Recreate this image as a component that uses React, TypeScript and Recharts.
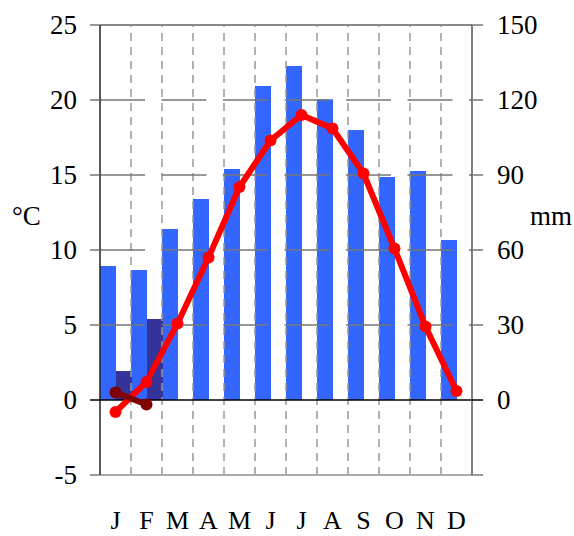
import React from 'react';
import { ComposedChart, Bar, Line, XAxis, YAxis, ReferenceLine } from 'recharts';

const months = ['Jan', 'Feb', 'Mar', 'Apr', 'May', 'Jun', 'Jul', 'Aug', 'Sep', 'Oct', 'Nov', 'Dec'];
const monthLabels = ['J', 'F', 'M', 'A', 'M', 'J', 'J', 'A', 'S', 'O', 'N', 'D'];

// temperature °C (left axis)
const temperature = [-0.8, 1.2, 5.1, 9.5, 14.2, 17.3, 19.0, 18.1, 15.1, 10.1, 4.9, 0.6];
const temperatureDark = [0.5, -0.3, null, null, null, null, null, null, null, null, null, null];

// precipitation mm (right axis)
const precipitation = [53.6, 52, 68.4, 80.4, 92.4, 125.6, 133.6, 120.3, 108, 89.2, 91.6, 64];
const precipitationDark = [11.6, 32.4, null, null, null, null, null, null, null, null, null, null];

const tempTicks = [-5, 0, 5, 10, 15, 20, 25];
const mmTicks = [-30, 0, 30, 60, 90, 120, 150];
const innerGrid = [5, 10, 15, 20];

const data = months.map((m, i) => ({
    month: m,
    temp: temperature[i],
    tempDark: temperatureDark[i],
    precip: precipitation[i],
    precipDark: precipitationDark[i],
}));

const FONT = '"Liberation Serif", "DejaVu Serif", serif';

const LeftTick = (props: any) => {
    const { x, y, payload } = props;
    const col = payload.value === 0 ? '#000' : '#777';
    return (
        <g>
            <line x1={x + 13} y1={y} x2={x + 23} y2={y} stroke={col} strokeWidth={1.5} />
            <text x={x} y={y} dy="0.35em" textAnchor="end" fontSize={27} fontFamily={FONT} fill="#000">
                {payload.value}
            </text>
        </g>
    );
};

const RightTick = (props: any) => {
    const { x, y, payload } = props;
    const col = payload.value === 0 ? '#000' : '#777';
    return (
        <g>
            <line x1={x - 25} y1={y} x2={x - 14} y2={y} stroke={col} strokeWidth={1.5} />
            {payload.value >= 0 && (
                <text x={x} y={y} dy="0.35em" textAnchor="start" fontSize={27} fontFamily={FONT} fill="#000">
                    {payload.value}
                </text>
            )}
        </g>
    );
};

export default function App() {
    return (
        <div style={{ position: 'absolute', left: 0, top: 0, background: '#fff' }}>
            <ComposedChart
                width={574}
                height={536}
                data={data}
                margin={{ top: 25, right: 0, bottom: 0, left: 0 }}
                barCategoryGap={0}
                barGap={0}
            >
                <XAxis
                    dataKey="month"
                    height={61}
                    tickFormatter={(_v: any, i: number) => monthLabels[i]}
                    tick={{ fontSize: 26, fontFamily: FONT, fill: '#000' }}
                    tickLine={false}
                    tickSize={0}
                    tickMargin={36}
                    interval={0}
                    axisLine={{ stroke: '#aaa', strokeWidth: 2 }}
                />
                <YAxis
                    yAxisId="left"
                    width={100}
                    domain={[-5, 25]}
                    ticks={tempTicks}
                    interval={0}
                    tick={<LeftTick />}
                    tickLine={false}
                    tickSize={10}
                    tickMargin={13}
                    axisLine={{ stroke: '#222', strokeWidth: 1.5 }}
                    label={{ value: '°C', position: 'insideLeft', offset: 12, dy: -35, fontSize: 27, fontFamily: FONT, fill: '#000' }}
                />
                <YAxis
                    yAxisId="right"
                    orientation="right"
                    width={102}
                    domain={[-30, 150]}
                    ticks={mmTicks}
                    interval={0}
                    tick={<RightTick />}
                    tickLine={false}
                    tickSize={11}
                    tickMargin={14}
                    axisLine={{ stroke: '#555', strokeWidth: 1.5 }}
                    label={{ value: 'mm', position: 'insideRight', offset: 2, dy: -35, fontSize: 27, fontFamily: FONT, fill: '#000' }}
                />

                {/* month boundaries */}
                {months.slice(1).map((m) => (
                    <ReferenceLine
                        key={m}
                        yAxisId="left"
                        x={m}
                        position="start"
                        stroke="#999"
                        strokeWidth={1.5}
                        strokeDasharray="8 6"
                    />
                ))}
                {innerGrid.map((v) => (
                    <ReferenceLine key={v} yAxisId="left" y={v} stroke="#777" strokeWidth={1.5} strokeDasharray="45 16.5" />
                ))}
                <ReferenceLine yAxisId="left" y={25} stroke="#888" strokeWidth={2} />

                <Bar yAxisId="right" dataKey="precip" fill="#3366ff" isAnimationActive={false} />
                <Bar yAxisId="right" dataKey="precipDark" fill="#333399" isAnimationActive={false} />

                <ReferenceLine yAxisId="left" y={0} stroke="#000" strokeWidth={1.5} />

                <Line
                    yAxisId="left"
                    dataKey="temp"
                    stroke="#ff0000"
                    strokeWidth={6}
                    dot={{ r: 6, fill: '#ff0000', stroke: 'none' }}
                    isAnimationActive={false}
                />
                <Line
                    yAxisId="left"
                    dataKey="tempDark"
                    stroke="#800000"
                    strokeWidth={6}
                    dot={{ r: 6, fill: '#800000', stroke: 'none' }}
                    isAnimationActive={false}
                />
            </ComposedChart>
        </div>
    );
}
